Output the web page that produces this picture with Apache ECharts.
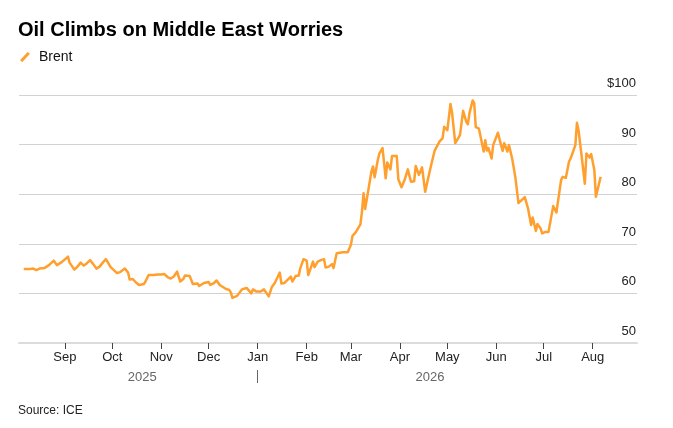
<!DOCTYPE html>
<html>
<head>
<meta charset="utf-8">
<script src="https://cdn.jsdelivr.net/npm/echarts@6/dist/echarts.min.js"></script>
<style>
  html, body { margin: 0; padding: 0; background: #fff; }
  #main { width: 673px; height: 428px; }
</style>
</head>
<body>
<div id="main"></div>
<script>
// Brent, USD per barrel
const dates = [
  '2025-08-06','2025-08-10','2025-08-12','2025-08-14','2025-08-16','2025-08-17','2025-08-19','2025-08-20',
  '2025-08-22','2025-08-23','2025-08-25','2025-08-27','2025-08-28','2025-08-30','2025-08-31','2025-09-03',
  '2025-09-04','2025-09-07','2025-09-09','2025-09-11','2025-09-13','2025-09-15','2025-09-17','2025-09-19',
  '2025-09-21','2025-09-23','2025-09-25','2025-09-27','2025-09-28','2025-09-30','2025-10-04','2025-10-06',
  '2025-10-07','2025-10-09','2025-10-11','2025-10-12','2025-10-14','2025-10-16','2025-10-18','2025-10-19',
  '2025-10-21','2025-10-22','2025-10-24','2025-10-27','2025-10-28','2025-10-30','2025-11-01','2025-11-03',
  '2025-11-05','2025-11-07','2025-11-09','2025-11-11','2025-11-13','2025-11-15','2025-11-16','2025-11-19',
  '2025-11-21','2025-11-22','2025-11-24','2025-11-25','2025-11-28','2025-11-29','2025-12-01','2025-12-02',
  '2025-12-04','2025-12-06','2025-12-08','2025-12-10','2025-12-12','2025-12-14','2025-12-15','2025-12-16',
  '2025-12-19','2025-12-20','2025-12-22','2025-12-25','2025-12-26','2025-12-28','2025-12-29','2025-12-31',
  '2026-01-03','2026-01-05','2026-01-08','2026-01-10','2026-01-12','2026-01-15','2026-01-16','2026-01-18',
  '2026-01-22','2026-01-23','2026-01-25','2026-01-27','2026-01-28','2026-01-30','2026-02-01','2026-02-02',
  '2026-02-05','2026-02-06','2026-02-08','2026-02-10','2026-02-12','2026-02-13','2026-02-15','2026-02-16',
  '2026-02-17','2026-02-18','2026-02-20','2026-02-21','2026-02-24','2026-02-27','2026-03-01','2026-03-02',
  '2026-03-04','2026-03-05','2026-03-07','2026-03-08','2026-03-09','2026-03-10','2026-03-12','2026-03-14',
  '2026-03-15','2026-03-16','2026-03-18','2026-03-19','2026-03-21','2026-03-23','2026-03-24','2026-03-26',
  '2026-03-27','2026-03-30','2026-03-31','2026-04-02','2026-04-04','2026-04-06','2026-04-08','2026-04-10',
  '2026-04-11','2026-04-13','2026-04-15','2026-04-17','2026-04-19','2026-04-21','2026-04-23','2026-04-24',
  '2026-04-26','2026-04-28','2026-04-29','2026-04-30','2026-05-01','2026-05-03','2026-05-04','2026-05-06',
  '2026-05-07','2026-05-09','2026-05-11','2026-05-13','2026-05-14','2026-05-15','2026-05-17','2026-05-18',
  '2026-05-19','2026-05-21','2026-05-22','2026-05-24','2026-05-25','2026-05-26','2026-05-27','2026-05-29',
  '2026-05-30','2026-06-02','2026-06-04','2026-06-05','2026-06-06','2026-06-08','2026-06-09','2026-06-11',
  '2026-06-13','2026-06-15','2026-06-16','2026-06-19','2026-06-21','2026-06-22','2026-06-23','2026-06-24',
  '2026-06-26','2026-06-27','2026-06-29','2026-06-30','2026-07-02','2026-07-04','2026-07-07','2026-07-09',
  '2026-07-10','2026-07-12','2026-07-13','2026-07-15','2026-07-17','2026-07-18','2026-07-21','2026-07-22',
  '2026-07-23','2026-07-25','2026-07-27','2026-07-28','2026-07-30','2026-07-31','2026-08-02','2026-08-03',
  '2026-08-04','2026-08-06'
]
const brent = [
  64.9,64.9,65.0,64.7,65.0,64.6,65.1,64.7,
  65.7,66.1,66.6,65.7,66.1,66.3,65.9,67.4,
  66.2,64.8,65.4,66.2,65.6,66.1,66.7,65.9,
  65.0,65.4,66.2,66.9,67.3,65.3,64.1,64.3,
  64.7,65.0,64.2,62.8,62.9,62.2,61.7,62.0,
  61.9,62.4,63.7,63.7,63.6,63.8,63.8,63.9,
  63.3,63.0,63.4,64.4,62.4,62.9,63.6,63.5,
  61.9,61.5,62.0,61.5,62.1,61.7,62.3,61.7,
  62.0,62.6,61.7,61.3,60.9,60.7,60.2,59.1,
  59.5,59.7,60.8,61.1,60.7,60.0,60.8,60.4,
  60.4,60.8,59.4,61.3,62.2,64.2,62.0,62.1,
  63.4,62.4,63.5,63.6,65.1,66.9,66.6,63.7,
  66.4,65.3,66.4,66.7,66.9,65.2,65.4,65.2,
  65.9,65.1,68.1,68.4,68.3,68.3,69.8,71.6,
  72.3,72.4,73.9,76.5,80.2,77.0,80.8,84.6,
  85.6,83.4,86.9,88.2,89.3,83.2,86.4,85.0,
  87.7,87.7,83.0,81.4,82.9,85.0,82.5,82.6,
  85.7,83.9,85.4,80.5,83.4,86.2,88.8,88.7,
  90.6,91.3,93.6,93.5,92.9,98.2,96.4,90.3,
  90.4,91.9,96.8,94.6,94.1,96.3,98.9,98.3,
  93.5,93.2,93.3,88.6,90.9,88.8,89.3,87.2,
  89.9,92.4,89.9,88.7,90.3,88.6,89.9,87.2,
  83.5,78.2,78.5,79.4,77.2,76.8,73.8,75.3,
  72.6,74.0,73.1,72.1,72.4,72.4,77.6,76.3,
  76.2,82.9,83.5,83.3,86.6,87.2,89.9,94.4,
  92.9,87.6,82.1,88.2,87.4,88.1,84.9,79.5,
  79.5,83.5
]

const monthTicks = [
  '2025-09-01','2025-10-01','2025-11-01','2025-12-01','2026-01-01','2026-02-01',
  '2026-03-01','2026-04-01','2026-05-01','2026-06-01','2026-07-01','2026-08-01'
]
const monthNames = ['Jan','Feb','Mar','Apr','May','Jun','Jul','Aug','Sep','Oct','Nov','Dec']
const yearLabels = ['2025', '2026']
const yearLabelDates = ['2025-10-20', '2026-04-20']
const yearBreak = ['2026-01-01']
const yTicks = [50, 60, 70, 80, 90, 100]

const FONT = '"Liberation Sans", Arial, Helvetica, sans-serif'
const ORANGE = '#ff9f2e'

// dates -> ms timestamps (UTC), used on a linear value axis
const ts = s => Date.parse(s + 'T00:00:00Z')
const xMin = ts('2025-08-03')
const xMax = ts('2026-08-29')
const yearTs = yearLabelDates.map(ts)

const chart = echarts.init(document.getElementById('main'), null, { renderer: 'canvas' })

const option = {
    animation: false,
    textStyle: { fontFamily: FONT },
    title: [
        {
            text: 'Oil Climbs on Middle East Worries',
            left: 18,
            top: 20,
            padding: 0,
            textStyle: { fontFamily: FONT, fontSize: 20, fontWeight: 'bold', color: '#000' }
        },
        {
            text: 'Source: ICE',
            left: 18,
            top: 405,
            padding: 0,
            textStyle: { fontFamily: FONT, fontSize: 12, fontWeight: 'normal', color: '#222' }
        }
    ],
    legend: {
        left: 20,
        top: 50,
        padding: 0,
        itemWidth: 10,
        itemHeight: 10,
        // short slanted stroke, like the reference key
        icon: 'path://M0,8.2 L7.6,0 L10,1.8 L2.4,10 Z',
        textStyle: { fontFamily: FONT, fontSize: 14, color: '#111', padding: [0, 0, 0, 4] },
        data: ['Brent']
    },
    grid: {
        left: 19,
        right: 36,
        top: 95,
        bottom: 85,
        containLabel: false
    },
    xAxis: [
        {
            type: 'value',
            min: xMin,
            max: xMax,
            axisLine: { show: true, lineStyle: { color: '#dcdcdc', width: 2 } },
            axisTick: {
                show: true,
                length: 6,
                customValues: monthTicks.map(ts),
                lineStyle: { color: '#444', width: 1 }
            },
            axisLabel: {
                customValues: monthTicks.map(ts),
                margin: 8,
                fontFamily: FONT,
                fontSize: 13,
                color: '#222',
                formatter: v => monthNames[new Date(v).getUTCMonth()]
            },
            splitLine: { show: false }
        },
        {
            type: 'value',
            position: 'bottom',
            offset: 27,
            min: xMin,
            max: xMax,
            axisLine: { show: false },
            axisTick: {
                show: true,
                length: 13,
                customValues: yearBreak.map(ts),
                lineStyle: { color: '#666', width: 1 }
            },
            axisLabel: {
                customValues: yearTs,
                margin: 1,
                fontFamily: FONT,
                fontSize: 13,
                color: '#666',
                formatter: v => yearLabels[yearTs.indexOf(v)] || ''
            },
            splitLine: { show: false }
        }
    ],
    yAxis: {
        type: 'value',
        position: 'right',
        min: 50,
        max: 100,
        interval: 10,
        axisLine: { show: false },
        axisTick: { show: false },
        axisLabel: {
            inside: true,
            margin: 1,
            verticalAlign: 'bottom',
            padding: [0, 0, 5, 0],
            fontFamily: FONT,
            fontSize: 13,
            color: '#222',
            formatter: v => (v === yTicks[yTicks.length - 1] ? '$' + v : String(v))
        },
        splitLine: { show: true, lineStyle: { color: '#d2d2d2', width: 1 } }
    },
    series: [
        {
            name: 'Brent',
            type: 'line',
            xAxisIndex: 0,
            showSymbol: false,
            symbol: 'none',
            color: ORANGE,
            lineStyle: { color: ORANGE, width: 2.5, join: 'round' },
            data: dates.map((d, i) => [ts(d), brent[i]])
        }
    ]
}

chart.setOption(option)
</script>
</body>
</html>
